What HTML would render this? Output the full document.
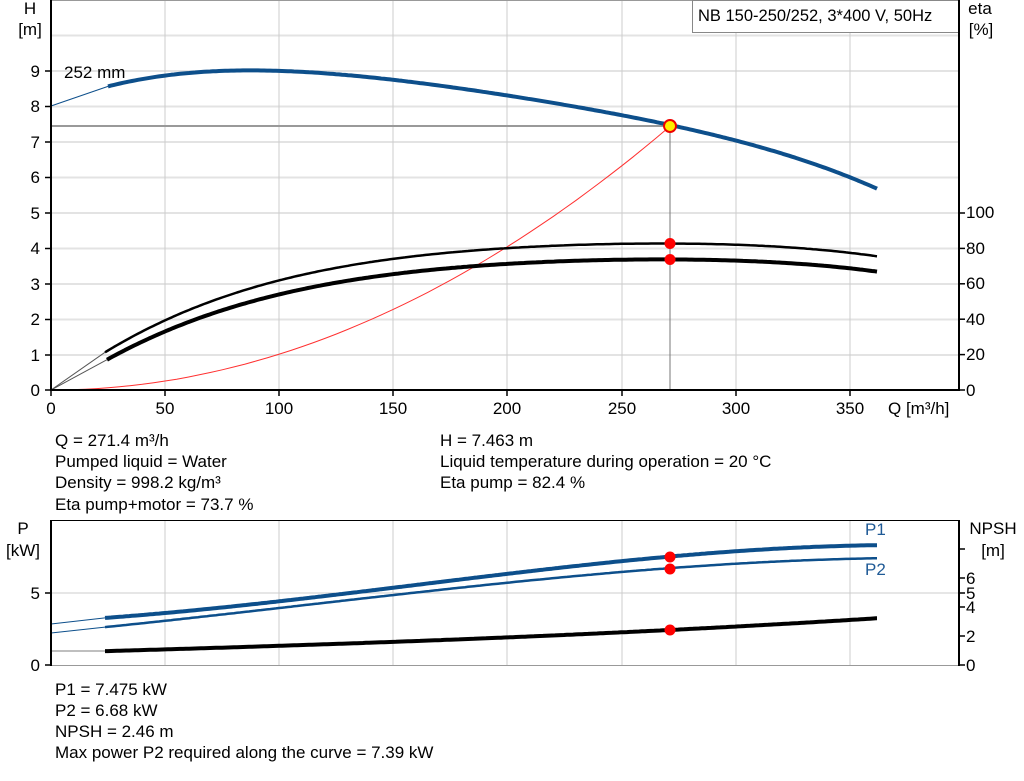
<!DOCTYPE html>
<html><head><meta charset="utf-8"><style>
body{margin:0;background:#fff;}
svg{display:block;font-family:"Liberation Sans",Arial,sans-serif;}
</style></head><body>
<svg id="s" width="1024" height="781" viewBox="0 0 1024 781" xmlns="http://www.w3.org/2000/svg">
<g stroke="#e3e3e3" stroke-width="2">
<line x1="51" y1="355" x2="959" y2="355"/><line x1="51" y1="319.5" x2="959" y2="319.5"/><line x1="51" y1="284" x2="959" y2="284"/><line x1="51" y1="248.5" x2="959" y2="248.5"/><line x1="51" y1="213" x2="959" y2="213"/><line x1="51" y1="177.5" x2="959" y2="177.5"/><line x1="51" y1="142" x2="959" y2="142"/><line x1="51" y1="106.5" x2="959" y2="106.5"/><line x1="51" y1="71" x2="959" y2="71"/><line x1="51" y1="35.5" x2="959" y2="35.5"/>
</g>
<g stroke="#cccccc" stroke-width="1">
<line x1="165" y1="0" x2="165" y2="390"/><line x1="279" y1="0" x2="279" y2="390"/><line x1="393" y1="0" x2="393" y2="390"/><line x1="507" y1="0" x2="507" y2="390"/><line x1="622" y1="0" x2="622" y2="390"/><line x1="736" y1="0" x2="736" y2="390"/><line x1="850" y1="0" x2="850" y2="390"/>
<line x1="165" y1="520" x2="165" y2="665"/><line x1="279" y1="520" x2="279" y2="665"/><line x1="393" y1="520" x2="393" y2="665"/><line x1="507" y1="520" x2="507" y2="665"/><line x1="622" y1="520" x2="622" y2="665"/><line x1="736" y1="520" x2="736" y2="665"/><line x1="850" y1="520" x2="850" y2="665"/>
<line x1="51" y1="593" x2="959" y2="593"/>
</g>
<line x1="51" y1="0.5" x2="959" y2="0.5" stroke="#999"/>
<line x1="51" y1="520.5" x2="959" y2="520.5" stroke="#000"/>
<line x1="51" y1="665.5" x2="959" y2="665.5" stroke="#999"/>
<rect x="692.5" y="0.5" width="266" height="32" fill="#fff" stroke="#888"/>
<text x="698" y="21" font-size="16.5">NB 150-250/252, 3*400 V, 50Hz</text>
<line x1="51" y1="126" x2="670" y2="126" stroke="#999" stroke-width="2"/>
<line x1="670" y1="126" x2="670" y2="390" stroke="#777" stroke-width="1"/>
<g id="curves" fill="none"></g>
<g stroke="#000" stroke-width="2">
<line x1="51" y1="0" x2="51" y2="391"/><line x1="50" y1="390" x2="959" y2="390"/>
<line x1="959" y1="0" x2="959" y2="391"/>
<line x1="51" y1="520" x2="51" y2="666"/><line x1="959" y1="520" x2="959" y2="666"/>
</g>
<g stroke="#000" stroke-width="1.5" id="ticks"></g>
<circle cx="670" cy="126" r="6" fill="#ffee00" stroke="#e00" stroke-width="2"/>
<g fill="#f00"><circle cx="670" cy="243.5" r="5.5"/><circle cx="670" cy="259.5" r="5.5"/>
<circle cx="670" cy="557" r="5.5"/><circle cx="670" cy="569" r="5.5"/><circle cx="670" cy="630" r="5.5"/></g>
<g font-size="17" fill="#000">
<text x="30" y="14" text-anchor="middle">H</text><text x="30" y="35" text-anchor="middle">[m]</text>
<text x="980" y="14" text-anchor="middle">eta</text><text x="981" y="35" text-anchor="middle">[%]</text>
<text x="64" y="78">252 mm</text>
<g text-anchor="end"><text x="40" y="396">0</text><text x="40" y="361">1</text><text x="40" y="325">2</text><text x="40" y="290">3</text><text x="40" y="254">4</text><text x="40" y="219">5</text><text x="40" y="183">6</text><text x="40" y="148">7</text><text x="40" y="112">8</text><text x="40" y="77">9</text></g>
<g><text x="966" y="396">0</text><text x="966" y="360">20</text><text x="966" y="325">40</text><text x="966" y="289">60</text><text x="966" y="254">80</text><text x="966" y="218">100</text></g>
<g text-anchor="middle"><text x="51" y="414">0</text><text x="165" y="414">50</text><text x="279" y="414">100</text><text x="393" y="414">150</text><text x="507" y="414">200</text><text x="622" y="414">250</text><text x="736" y="414">300</text><text x="850" y="414">350</text></g>
<text x="888" y="414">Q [m³/h]</text>
<text x="55" y="446">Q = 271.4 m³/h</text><text x="55" y="467">Pumped liquid = Water</text><text x="55" y="488">Density = 998.2 kg/m³</text><text x="55" y="510">Eta pump+motor = 73.7 %</text>
<text x="440" y="446">H = 7.463 m</text><text x="440" y="467">Liquid temperature during operation = 20 °C</text><text x="440" y="488">Eta pump = 82.4 %</text>
<text x="23" y="534" text-anchor="middle">P</text><text x="23" y="556" text-anchor="middle">[kW]</text>
<text x="40" y="599" text-anchor="end">5</text><text x="40" y="671" text-anchor="end">0</text>
<text x="993" y="534" text-anchor="middle">NPSH</text><text x="993" y="556" text-anchor="middle">[m]</text>
<text x="966" y="671">0</text><text x="966" y="642">2</text><text x="966" y="613">4</text><text x="966" y="599">5</text><text x="966" y="584">6</text>
<text x="865" y="535" fill="#1f5a96">P1</text><text x="865" y="575" fill="#1f5a96">P2</text>
<text x="55" y="695">P1 = 7.475 kW</text><text x="55" y="716">P2 = 6.68 kW</text><text x="55" y="737">NPSH = 2.46 m</text><text x="55" y="758">Max power P2 required along the curve = 7.39 kW</text>
</g>
</svg>
<script>
function fit(p,deg){var n=deg+1,A=[],b=[];for(var i=0;i<n;i++){A.push(new Array(n).fill(0));b.push(0);}
p.forEach(function(q){var x=(q[0]-500)/400;for(var i=0;i<n;i++){for(var j=0;j<n;j++)A[i][j]+=Math.pow(x,i+j);b[i]+=Math.pow(x,i)*q[1];}});
for(var i=0;i<n;i++){for(var k=i+1;k<n;k++){var f=A[k][i]/A[i][i];for(var j=i;j<n;j++)A[k][j]-=f*A[i][j];b[k]-=f*b[i];}}
var c=new Array(n);for(var i=n-1;i>=0;i--){var s=b[i];for(var j=i+1;j<n;j++)s-=A[i][j]*c[j];c[i]=s/A[i][i];}
return function(X){var x=(X-500)/400,s=0;for(var i=0;i<n;i++)s+=c[i]*Math.pow(x,i);return s;};}
var g=document.getElementById("curves"),ns="http://www.w3.org/2000/svg";
function line(pts,c,w){var e=document.createElementNS(ns,"path");e.setAttribute("d","M"+pts.map(function(p){return p[0].toFixed(1)+","+p[1].toFixed(1);}).join(" L"));e.setAttribute("stroke",c);e.setAttribute("stroke-width",w);e.setAttribute("stroke-linejoin","round");g.appendChild(e);}
function curve(p,deg,x0,x1,c,w){var f=fit(p,deg),pts=[];for(var x=x0;x<=x1;x+=3)pts.push([x,f(x)]);pts.push([x1,f(x1)]);line(pts,c,w);return f;}
var B="#0d4f8b";
var r=[];for(var q=0;q<=271.4;q+=5){r.push([51+2.283*q,390-7.463*35.4*Math.pow(q/271.4,2)]);}line(r,"#ff3030",1);
var H=[[108,86],[165,76],[222,71.5],[279,70.5],[393,79],[507,96],[622,115],[670,125.5],[737,141],[851,176],[877,190]];
var fh=curve(H,4,108,877,B,4);
line([[51,106],[108,fh(108)]],B,1);
var e1=curve([[105,352],[165,321],[279,280],[393,259],[500,248.5],[622,244],[670,243.5],[737,245],[851,252],[877,257]],4,105,877,"#000",2.5);
var e2=curve([[107,359],[165,333],[279,293],[393,275],[500,264],[622,260],[670,259.5],[737,260.5],[851,268],[877,272]],4,107,877,"#000",4);
line([[51,390],[105,e1(105)]],"#555",1);line([[51,390],[107,e2(107)]],"#555",1);
var p1=curve([[105,618],[165,613],[279,601],[393,588],[508,574],[622,561],[670,556.5],[737,551],[851,546],[877,545]],3,105,877,B,4);
var p2=curve([[105,627],[165,621],[279,608],[393,595],[508,583],[622,571],[670,568.5],[737,564],[851,559],[877,558]],3,105,877,B,2.5);
curve([[105,651],[165,649.5],[279,646],[393,642],[508,637],[622,632],[670,630],[737,627],[851,620],[877,618]],3,105,877,"#000",4);
line([[51,624],[105,p1(105)]],B,1);line([[51,633],[105,p2(105)]],B,1);line([[51,651],[105,651]],"#aaa",1.5);
var t=document.getElementById("ticks"),s="";
[390,355,319.5,284,248.5,213,177.5,142,106.5,71].forEach(function(y){s+='<line x1="45" y1="'+y+'" x2="51" y2="'+y+'"/>';});
[390,354.6,319.2,283.8,248.4,213].forEach(function(y){s+='<line x1="959" y1="'+y+'" x2="965" y2="'+y+'"/>';});
[51,165,279,393,507,622,736,850].forEach(function(x){s+='<line x1="'+x+'" y1="390" x2="'+x+'" y2="396"/>';});
[593,665].forEach(function(y){s+='<line x1="45" y1="'+y+'" x2="51" y2="'+y+'"/>';});
[665,636,607,593,578,549].forEach(function(y){s+='<line x1="959" y1="'+y+'" x2="965" y2="'+y+'"/>';});
t.innerHTML=s;
</script>
</body></html>
